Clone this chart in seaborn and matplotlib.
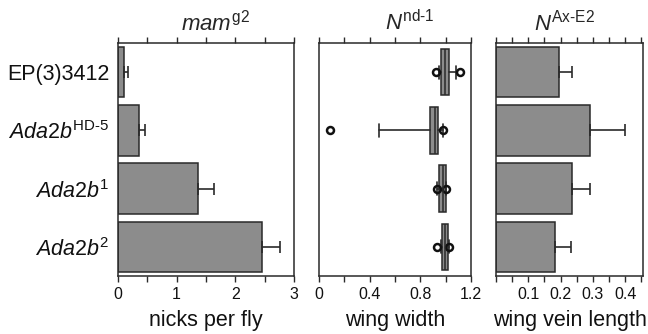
import numpy as np
import pandas as pd
import matplotlib
matplotlib.use('Agg')
import matplotlib.pyplot as plt
import seaborn as sns
from matplotlib.ticker import MultipleLocator, FixedLocator

# --- data ---
genotypes = ['EP(3)3412',
             r'$\mathit{Ada2b}^{\mathrm{HD\text{-}5}}$',
             r'$\mathit{Ada2b}^{1}$',
             r'$\mathit{Ada2b}^{2}$']

# mam g2: nicks per fly (mean, sem)
nicks_mean = [0.10, 0.36, 1.36, 2.45]
nicks_sem = [0.065, 0.10, 0.27, 0.31]

# N nd-1: wing width box plots
ww_q1 = [0.966, 0.879, 0.947, 0.974]
ww_med = [0.998, 0.913, 0.980, 0.995]
ww_q3 = [1.026, 0.942, 1.005, 1.016]
ww_lo = [0.950, 0.474, 0.935, 0.960]
ww_hi = [1.080, 0.980, 1.005, 1.026]
ww_fliers = [[0.926, 1.11], [0.09, 0.98], [0.93, 1.005], [0.93, 1.026]]

# N Ax-E2: wing vein length (mean, sem)
vein_mean = [0.194, 0.290, 0.236, 0.183]
vein_sem = [0.042, 0.110, 0.056, 0.048]

# --- style ---
sns.set_theme(style='white')
plt.rcParams['font.family'] = ['Liberation Sans', 'DejaVu Sans']
plt.rcParams['mathtext.fontset'] = 'custom'
plt.rcParams['mathtext.rm'] = 'Liberation Sans'
plt.rcParams['mathtext.it'] = 'Liberation Sans:italic'
plt.rcParams['mathtext.bf'] = 'Liberation Sans:bold'

bar_color = '#8c8c8c'
edge = '#2a2a2a'

fig = plt.figure(figsize=(6.48, 3.34), dpi=100)
bottom, height = 0.1737, 0.6976
ax1 = fig.add_axes([0.1821, bottom, 0.2716, height])
ax2 = fig.add_axes([0.4923, bottom, 0.2346, height])
ax3 = fig.add_axes([0.7654, bottom, 0.2269, height])

pos = np.arange(len(genotypes))


def bar_panel(ax, means, sems):
    df = pd.DataFrame({'genotype': genotypes, 'value': means})
    sns.barplot(data=df, x='value', y='genotype', orient='h', color=bar_color,
                saturation=1, edgecolor=edge, linewidth=1.1, width=0.87,
                errorbar=None, ax=ax)
    ax.errorbar(means, pos, xerr=[np.zeros(len(means)), sems], fmt='none',
                ecolor=edge, elinewidth=1.2, capsize=4.5, capthick=1.2, zorder=1)


def style_axis(ax):
    for s in ax.spines.values():
        s.set_visible(True)
        s.set_color(edge)
        s.set_linewidth(1.1)
    ax.tick_params(axis='x', which='both', direction='out', top=True, bottom=True,
                   length=4, width=1.0, color=edge, labelsize=11.5, pad=4,
                   labelcolor='#111111')
    ax.tick_params(axis='y', which='both', length=0, left=False, pad=6,
                   labelsize=15.5, labelcolor='#111111')
    ax.set_ylim(3.5, -0.5)
    ax.set_ylabel('')
    ax.xaxis.label.set_size(15.5)
    ax.xaxis.label.set_color('#111111')


# panel 1
bar_panel(ax1, nicks_mean, nicks_sem)
ax1.set_xlim(0, 3)
ax1.xaxis.set_major_locator(FixedLocator([0, 1, 2, 3]))
ax1.xaxis.set_minor_locator(MultipleLocator(0.5))
ax1.set_xticklabels(['0', '1', '2', '3'])
style_axis(ax1)
ax1.set_xlabel('nicks per fly', labelpad=6)
ax1.set_title(r'$mam^{\mathrm{g2}}$', fontsize=16, pad=9, x=0.554)

# panel 2
stats = []
for i in range(len(genotypes)):
    stats.append({'q1': ww_q1[i], 'med': ww_med[i], 'q3': ww_q3[i],
                  'whislo': ww_lo[i], 'whishi': ww_hi[i],
                  'fliers': np.array(ww_fliers[i])})
ax2.bxp(stats, positions=pos, widths=0.8, orientation='horizontal',
        patch_artist=True, capwidths=0.22,
        boxprops=dict(facecolor=bar_color, edgecolor=edge, linewidth=1.1),
        medianprops=dict(color=edge, linewidth=1.1),
        whiskerprops=dict(color=edge, linewidth=1.2),
        capprops=dict(color=edge, linewidth=1.2),
        flierprops=dict(marker='o', markerfacecolor='none', markeredgecolor='#111111',
                        markersize=5, markeredgewidth=1.8))
ax2.set_xlim(0, 1.2)
ax2.xaxis.set_major_locator(FixedLocator([0, 0.4, 0.8, 1.2]))
ax2.xaxis.set_minor_locator(MultipleLocator(0.2))
ax2.set_xticklabels(['0', '0.4', '0.8', '1.2'])
style_axis(ax2)
ax2.set_yticks([])
ax2.set_xlabel('wing width', labelpad=6)
ax2.set_title(r'$N^{\mathrm{nd\text{-}1}}$', fontsize=16, pad=9, x=0.6)

# panel 3
bar_panel(ax3, vein_mean, vein_sem)
ax3.set_xlim(0, 0.455)
ax3.xaxis.set_major_locator(FixedLocator([0.1, 0.2, 0.3, 0.4]))
ax3.xaxis.set_minor_locator(MultipleLocator(0.05))
ax3.set_xticklabels(['0.1', '0.2', '0.3', '0.4'])
style_axis(ax3)
ax3.set_yticks([])
ax3.set_xlabel('wing vein length', labelpad=6)
ax3.set_title(r'$N^{\mathrm{Ax\text{-}E2}}$', fontsize=16, pad=9, x=0.463)

fig.savefig('out.png', dpi=100)
